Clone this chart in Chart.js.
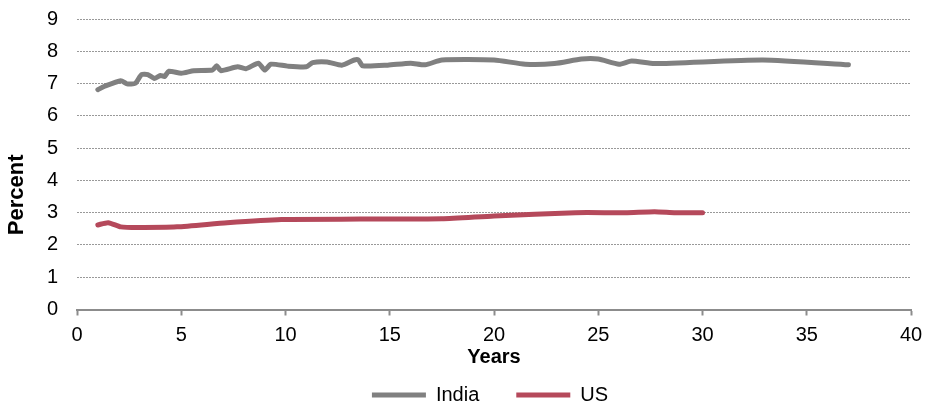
<!DOCTYPE html>
<html>
<head>
<meta charset="utf-8">
<script src="https://cdn.jsdelivr.net/npm/chart.js@4/dist/chart.umd.min.js"></script>
<style>
  html, body { margin: 0; padding: 0; background: #ffffff; }
  #wrap { width: 925px; height: 407px; }
</style>
</head>
<body>
<div id="wrap"><canvas id="c" width="925" height="407"></canvas></div>
<script>
// ---- data ----
const seriesNames = ['India', 'US'];
const indiaYears  = [1.0, 1.3, 2.1, 2.4, 2.8, 3.1, 3.4, 3.7, 4.0, 4.2, 4.4, 5.0, 5.6, 6.5, 6.7, 6.9, 7.7, 8.1, 8.7, 9.0, 9.3, 10.1, 11.0, 11.3, 12.0, 12.7, 13.3, 13.5, 13.7, 14.9, 16.0, 16.7, 17.5, 20.0, 21.5, 22.9, 24.2, 25.0, 26.0, 26.6, 27.7, 32.9, 37.0];
const indiaValues = [6.81, 6.91, 7.09, 6.99, 7.01, 7.28, 7.28, 7.16, 7.25, 7.22, 7.38, 7.32, 7.40, 7.42, 7.55, 7.40, 7.52, 7.46, 7.63, 7.42, 7.60, 7.54, 7.52, 7.65, 7.67, 7.57, 7.73, 7.73, 7.55, 7.57, 7.63, 7.58, 7.73, 7.73, 7.60, 7.62, 7.76, 7.76, 7.60, 7.70, 7.62, 7.73, 7.58];
const usYears     = [1.0, 1.5, 2.1, 2.9, 4.8, 7.2, 9.8, 13.6, 17.5, 20.0, 23.9, 26.3, 27.7, 28.7, 30.0];
const usValues    = [2.62, 2.69, 2.56, 2.54, 2.56, 2.69, 2.79, 2.80, 2.81, 2.90, 3.00, 3.00, 3.03, 3.00, 3.00];
const xTickLabels = [0, 5, 10, 15, 20, 25, 30, 35, 40];
const yTickLabels = [0, 1, 2, 3, 4, 5, 6, 7, 8, 9];
const xTitle = 'Years';
const yTitle = 'Percent';

const toPoints = (xs, ys) => xs.map((x, i) => ({ x: x, y: ys[i] }));
const FONT = "'Liberation Sans', Arial, Helvetica, sans-serif";

const legendShift = {
  id: 'legendShift',
  afterLayout(chart) {
    if (chart.legend) { chart.legend.left += 34.5; chart.legend.right += 34.5; }
  }
};

new Chart(document.getElementById('c'), {
  type: 'line',
  data: {
    datasets: [
      { label: seriesNames[0], data: toPoints(indiaYears, indiaValues), borderColor: '#808080', backgroundColor: '#808080', borderWidth: 5 },
      { label: seriesNames[1], data: toPoints(usYears, usValues), borderColor: '#b5495b', backgroundColor: '#b5495b', borderWidth: 5 }
    ]
  },
  options: {
    responsive: false,
    animation: false,
    devicePixelRatio: 1,
    layout: { padding: { top: 19, right: 14, bottom: -8, left: 0 } },
    elements: {
      point: { radius: 0, hoverRadius: 0 },
      line: { borderWidth: 5, tension: 0.2, borderCapStyle: 'round', borderJoinStyle: 'round', fill: false }
    },
    plugins: {
      legend: {
        position: 'bottom',
        labels: {
          usePointStyle: true, pointStyle: 'line', pointStyleWidth: 54, padding: 37,
          color: '#000', font: { family: FONT, size: 20 }
        }
      },
      tooltip: { enabled: false }
    },
    scales: {
      x: {
        type: 'linear',
        min: xTickLabels[0], max: xTickLabels[xTickLabels.length - 1],
        afterBuildTicks(s) { s.ticks = xTickLabels.map(v => ({ value: v })); },
        ticks: { padding: 2, color: '#000', font: { family: FONT, size: 20, lineHeight: 1.8 } },
        grid: { drawOnChartArea: false, drawTicks: true, tickLength: 6, tickColor: '#8c8c8c', tickWidth: 2 },
        border: { display: true, color: '#8c8c8c', width: 2 },
        title: { display: true, text: xTitle, color: '#000', font: { family: FONT, size: 20, weight: 'bold' }, padding: { top: 0, bottom: -21.7 } },
        afterFit(s) { s.height = 38.5; }
      },
      y: {
        min: yTickLabels[0], max: yTickLabels[yTickLabels.length - 1],
        afterBuildTicks(s) { s.ticks = yTickLabels.map(v => ({ value: v })); },
        ticks: { padding: 0, color: '#000', font: { family: FONT, size: 20 } },
        grid: { drawTicks: true, tickLength: 19, tickColor: 'rgba(0,0,0,0)', color: '#999999', lineWidth: 1 },
        border: { display: false, dash: [2, 1] },
        title: { display: true, text: yTitle + '          ', color: '#000', font: { family: FONT, size: 22, weight: 'bold' }, padding: { top: 4, bottom: 0 } },
        afterFit(s) { s.width = 77; }
      }
    }
  },
  plugins: [legendShift]
});
</script>
</body>
</html>
